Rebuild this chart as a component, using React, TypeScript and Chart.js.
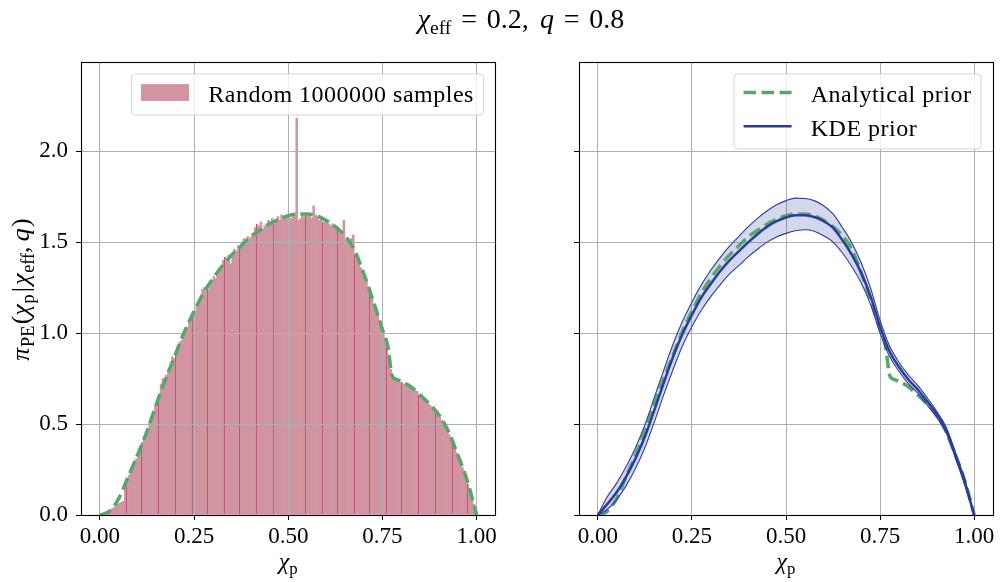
import React, { useEffect, useRef } from "react";
import { Chart, registerables } from "chart.js";

Chart.register(...registerables);

const FONT = '"Liberation Serif", "Times New Roman", serif';

// ---------- data ----------
const histBinWidth = 0.005; // 200 bins on [0, 1]
const histDensity = [
  0, 0, 0, 0, 0.003, 0.03, 0.034, 0.04, 0.05, 0.06,
  0.065, 0.07, 0.075, 0.16, 0.18, 0.22, 0.24, 0.26, 0.3, 0.31,
  0.34, 0.36, 0.4, 0.42, 0.44, 0.47, 0.51, 0.52, 0.56, 0.6,
  0.63, 0.66, 0.72, 0.75, 0.74, 0.77, 0.8, 0.81, 0.87, 0.86,
  0.9, 0.93, 0.95, 0.96, 1.0, 1.02, 1.03, 1.07, 1.08, 1.1,
  1.12, 1.15, 1.17, 1.19, 1.24, 1.25, 1.23, 1.24, 1.26, 1.29,
  1.31, 1.3, 1.33, 1.34, 1.36, 1.4, 1.42, 1.39, 1.43, 1.38,
  1.44, 1.46, 1.45, 1.48, 1.47, 1.5, 1.52, 1.49, 1.53, 1.52,
  1.53, 1.55, 1.58, 1.6, 1.59, 1.61, 1.57, 1.59, 1.6, 1.62,
  1.61, 1.63, 1.6, 1.62, 1.64, 1.62, 1.65, 1.63, 1.64, 1.63,
  1.64, 1.63, 1.65, 1.66, 2.18, 1.62, 1.63, 1.65, 1.64, 1.66,
  1.64, 1.66, 1.63, 1.7, 1.65, 1.64, 1.62, 1.63, 1.61, 1.62,
  1.61, 1.6, 1.59, 1.6, 1.58, 1.57, 1.58, 1.55, 1.54, 1.62,
  1.51, 1.5, 1.49, 1.52, 1.54, 1.43, 1.41, 1.39, 1.36, 1.33,
  1.31, 1.29, 1.25, 1.22, 1.2, 1.16, 1.13, 1.1, 1.07, 1.03,
  1.0, 0.97, 0.93, 0.88, 0.8, 0.76, 0.75, 0.74, 0.74, 0.73,
  0.73, 0.72, 0.72, 0.71, 0.71, 0.7, 0.69, 0.68, 0.68, 0.66,
  0.66, 0.64, 0.63, 0.63, 0.61, 0.6, 0.59, 0.58, 0.56, 0.55,
  0.54, 0.52, 0.5, 0.49, 0.47, 0.44, 0.42, 0.4, 0.37, 0.34,
  0.32, 0.29, 0.26, 0.23, 0.2, 0.17, 0.13, 0.1, 0.06, 0.02,
];
// bins whose left edge shows the darker seam line
const seamBins = [5, 14, 22, 31, 40, 49, 57, 66, 74, 83, 92, 100, 109, 118, 126, 135, 143, 152, 160, 169, 178, 187, 195];

const priorX = [
  0, 0.025, 0.05, 0.075, 0.1, 0.125, 0.15, 0.175, 0.2, 0.225, 0.25, 0.275, 0.3, 0.325, 0.35, 0.375,
  0.4, 0.425, 0.45, 0.475, 0.5, 0.525, 0.55, 0.575, 0.6, 0.625, 0.65, 0.675, 0.7, 0.725, 0.75,
  0.765, 0.775, 0.785, 0.8, 0.825, 0.85, 0.875, 0.9, 0.925, 0.95, 0.975, 1.0,
];
const analyticalPrior = [
  0, 0.02, 0.09, 0.21, 0.33, 0.46, 0.61, 0.75, 0.88, 1.01, 1.12, 1.22, 1.3, 1.37, 1.43, 1.48,
  1.53, 1.565, 1.6, 1.625, 1.645, 1.655, 1.655, 1.645, 1.62, 1.585, 1.535, 1.46, 1.33, 1.18, 1.02,
  0.92, 0.77, 0.748, 0.735, 0.705, 0.66, 0.61, 0.55, 0.46, 0.33, 0.19, 0,
];

const kdeX = [
  0, 0.025, 0.05, 0.075, 0.1, 0.125, 0.15, 0.175, 0.2, 0.225, 0.25, 0.275, 0.3, 0.325, 0.35, 0.375,
  0.4, 0.425, 0.45, 0.475, 0.5, 0.525, 0.55, 0.575, 0.6, 0.625, 0.65, 0.675, 0.7, 0.725, 0.75,
  0.775, 0.8, 0.825, 0.85, 0.875, 0.9, 0.925, 0.95, 0.975, 1.0,
];
const kdeMedian = [
  0, 0.06, 0.125, 0.21, 0.31, 0.43, 0.575, 0.725, 0.87, 0.995, 1.1, 1.195, 1.27, 1.34, 1.4, 1.45,
  1.5, 1.545, 1.585, 1.615, 1.635, 1.647, 1.648, 1.638, 1.615, 1.578, 1.51, 1.43, 1.33, 1.2, 1.035,
  0.9, 0.815, 0.745, 0.69, 0.625, 0.555, 0.47, 0.33, 0.18, 0,
];
const kdeUpper = [
  0, 0.1, 0.175, 0.265, 0.37, 0.495, 0.645, 0.795, 0.94, 1.065, 1.17, 1.265, 1.345, 1.415, 1.478, 1.532,
  1.585, 1.632, 1.672, 1.705, 1.728, 1.742, 1.74, 1.728, 1.7, 1.655, 1.58, 1.495, 1.385, 1.245, 1.07,
  0.93, 0.84, 0.77, 0.712, 0.645, 0.572, 0.485, 0.345, 0.195, 0,
];
const kdeLower = [
  0, 0.03, 0.085, 0.16, 0.255, 0.37, 0.51, 0.66, 0.8, 0.93, 1.035, 1.125, 1.2, 1.265, 1.325, 1.372,
  1.42, 1.462, 1.5, 1.528, 1.548, 1.562, 1.568, 1.56, 1.535, 1.5, 1.44, 1.365, 1.275, 1.155, 1.0,
  0.872, 0.79, 0.722, 0.67, 0.605, 0.538, 0.455, 0.315, 0.165, 0,
];

const xTickValues = [0, 0.25, 0.5, 0.75, 1];
const xTickLabels = ["0.00", "0.25", "0.50", "0.75", "1.00"];
const yTickValues = [0, 0.5, 1, 1.5, 2];
const yTickLabels = ["0.0", "0.5", "1.0", "1.5", "2.0"];

const histLabel = "Random 1000000 samples";
const analyticLabel = "Analytical prior";
const kdeLabel = "KDE prior";

type Seg = { t: string; it?: boolean; sub?: boolean; gap?: number };
const titleSegs: Seg[] = [
  { t: "χ", it: true }, { t: "eff", sub: true },
  { t: "=", gap: 0.35 }, { t: "0.2,", gap: 0.35 },
  { t: "q", it: true, gap: 0.4 }, { t: "=", gap: 0.35 }, { t: "0.8", gap: 0.35 },
];
const xLabelSegs: Seg[] = [{ t: "χ", it: true }, { t: "p", sub: true }];
const yLabelSegs: Seg[] = [
  { t: "π", it: true }, { t: "PE", sub: true, gap: 0.03 }, { t: "(", gap: 0.05 }, { t: "χ", it: true },
  { t: "p", sub: true, gap: 0.03 }, { t: "|", gap: 0.08 }, { t: "χ", it: true, gap: 0.08 },
  { t: "eff", sub: true, gap: 0.03 }, { t: "," }, { t: "q", it: true, gap: 0.2 }, { t: ")", gap: 0.05 },
];

// ---------- style ----------
const X_MIN = -0.05;
const X_MAX = 1.05;
const Y_MAX = 2.49;
const GRID = "#b0b0b0";
const PINK = "#d294a1";
const SEAM = "#bb4f70";
const GREEN = "#55a868";
const BLUE = "#2b3c9e";
const BAND = "rgba(43,60,158,0.2)";

// ---------- helpers ----------
function segFont(s: Seg, size: number) {
  const px = s.sub ? size * 0.7 : size;
  return `${s.it ? "italic " : ""}${px}px ${FONT}`;
}
function drawRich(ctx: CanvasRenderingContext2D, segs: Seg[], cx: number, base: number, size: number, rotate = false) {
  ctx.save();
  ctx.translate(cx, base);
  if (rotate) ctx.rotate(-Math.PI / 2);
  let w = 0;
  for (const s of segs) {
    ctx.font = segFont(s, size);
    w += (s.gap || 0) * size + ctx.measureText(s.t).width;
  }
  let x = -w / 2;
  ctx.fillStyle = "#000";
  ctx.textAlign = "left";
  ctx.textBaseline = "alphabetic";
  for (const s of segs) {
    x += (s.gap || 0) * size;
    ctx.font = segFont(s, size);
    ctx.fillText(s.t, x, s.sub ? size * 0.2 : 0);
    x += ctx.measureText(s.t).width;
  }
  ctx.restore();
}
const alignPx = (v: number) => Math.round(v - 0.5) + 0.5;

function drawFrame(chart: any) {
  const { ctx, chartArea: a } = chart;
  ctx.save();
  ctx.strokeStyle = "#000";
  ctx.lineWidth = 1.1;
  const l = alignPx(a.left), r = alignPx(a.right), t = alignPx(a.top), b = alignPx(a.bottom);
  ctx.strokeRect(l, t, r - l, b - t);
  ctx.restore();
}
function drawGrid(chart: any) {
  const { ctx, chartArea: a, scales } = chart;
  ctx.save();
  ctx.strokeStyle = GRID;
  ctx.lineWidth = 1;
  ctx.beginPath();
  for (const v of xTickValues) {
    const p = alignPx(scales.x.getPixelForValue(v));
    ctx.moveTo(p, a.top);
    ctx.lineTo(p, a.bottom);
  }
  for (const v of yTickValues) {
    const p = alignPx(scales.y.getPixelForValue(v));
    ctx.moveTo(a.left, p);
    ctx.lineTo(a.right, p);
  }
  ctx.stroke();
  ctx.restore();
}
type LegendItem = { label: string; kind: "patch" | "dash" | "line"; color: string };
function drawLegend(chart: any, items: LegendItem[], size: number) {
  const { ctx, chartArea: a } = chart;
  ctx.save();
  ctx.font = `${size}px ${FONT}`;
  (ctx as any).letterSpacing = "0.5px";
  const textW = Math.max(...items.map((i) => ctx.measureText(i.label).width));
  const pad = 0.4 * size, handleW = 2 * size, handlePad = 0.8 * size, rowH = 0.91 * size, rowGap = 0.5 * size;
  const boxW = pad * 2 + handleW + handlePad + textW;
  const boxH = pad * 2 + items.length * rowH + (items.length - 1) * rowGap;
  const right = a.right - 0.5 * size;
  const top = a.top + 0.5 * size;
  const left = right - boxW;
  ctx.beginPath();
  ctx.roundRect(left, top, boxW, boxH, 4);
  ctx.fillStyle = "rgba(255,255,255,0.8)";
  ctx.fill();
  ctx.strokeStyle = "rgba(204,204,204,0.8)";
  ctx.lineWidth = 1;
  ctx.stroke();
  items.forEach((it, i) => {
    const cy = top + pad + rowH / 2 + i * (rowH + rowGap);
    const hx = left + pad;
    if (it.kind === "patch") {
      ctx.fillStyle = it.color;
      ctx.fillRect(hx, cy - 2 - 0.35 * size, handleW, 0.7 * size);
    } else {
      ctx.strokeStyle = it.color;
      ctx.lineWidth = it.kind === "dash" ? 3.5 : 2.5;
      ctx.setLineDash(it.kind === "dash" ? [12.5, 5.5] : []);
      ctx.beginPath();
      ctx.moveTo(hx, cy - 2);
      ctx.lineTo(hx + handleW, cy - 2);
      ctx.stroke();
      ctx.setLineDash([]);
    }
    ctx.fillStyle = "#000";
    ctx.textAlign = "left";
    ctx.textBaseline = "alphabetic";
    ctx.font = `${size}px ${FONT}`;
    ctx.fillText(it.label, hx + handleW + handlePad, cy + 0.3 * size);
  });
  ctx.restore();
}

const tickFont = { family: FONT, size: 23 };
function xScale() {
  return {
    type: "linear",
    min: X_MIN,
    max: X_MAX,
    offset: false,
    afterBuildTicks: (s: any) => { s.ticks = xTickValues.map((value) => ({ value })); },
    afterFit: (s: any) => { s.height = 67; },
    ticks: {
      callback: (v: number) => xTickLabels[xTickValues.indexOf(v)] ?? "",
      font: tickFont, color: "#000", padding: 3, maxRotation: 0, autoSkip: false,
    },
    grid: { offset: false, color: GRID, lineWidth: 1, tickColor: "#000", tickLength: 5, tickWidth: 1 },
    border: { display: false },
  };
}
function yScale(width: number, showLabels: boolean) {
  return {
    type: "linear",
    min: 0,
    max: Y_MAX,
    offset: false,
    afterBuildTicks: (s: any) => { s.ticks = yTickValues.map((value) => ({ value })); },
    afterFit: (s: any) => { s.width = width; },
    ticks: {
      display: showLabels,
      callback: (v: number) => yTickLabels[yTickValues.indexOf(v)] ?? "",
      font: tickFont, color: "#000", padding: 8, autoSkip: false,
    },
    grid: { offset: false, color: GRID, lineWidth: 1, tickColor: "#000", tickLength: 5, tickWidth: 1 },
    border: { display: false },
  };
}

function leftConfig(): any {
  const decor = {
    id: "leftDecor",
    afterDatasetDraw(chart: any, args: any) {
      if (args.meta.type === "bar") drawGrid(chart);
    },
    afterDraw(chart: any) {
      const a = chart.chartArea;
      drawLegend(chart, [{ label: histLabel, kind: "patch", color: PINK }], 24);
      drawFrame(chart);
      drawRich(chart.ctx, xLabelSegs, (a.left + a.right) / 2, 569, 24);
      drawRich(chart.ctx, yLabelSegs, 29, (a.top + a.bottom) / 2 + 1, 26, true);
      drawRich(chart.ctx, titleSegs, 521, 28, 28);
    },
  };
  return {
    type: "bar",
    data: {
      datasets: [
        {
          type: "line",
          label: analyticLabel,
          data: priorX.map((x, i) => ({ x, y: analyticalPrior[i] })),
          borderColor: GREEN,
          borderWidth: 3.5,
          borderDash: [12.5, 5.5],
          pointRadius: 0,
          cubicInterpolationMode: "monotone",
          fill: false,
          order: 1,
        },
        {
          type: "bar",
          label: histLabel,
          data: histDensity.map((y, i) => ({ x: (i + 0.5) * histBinWidth, y })),
          backgroundColor: PINK,
          borderColor: SEAM,
          borderWidth: (c: any) => (seamBins.includes(c.dataIndex) ? { left: 1, right: 0, top: 0, bottom: 0 } : 0),
          borderSkipped: false,
          barPercentage: 1,
          categoryPercentage: 1,
          grouped: false,
          order: 2,
        },
      ],
    },
    options: {
      responsive: false,
      animation: false,
      devicePixelRatio: 1,
      events: [],
      layout: { padding: { left: 0, right: 504.5, top: 62, bottom: 0 }, autoPadding: false },
      plugins: { legend: { display: false }, tooltip: { enabled: false }, title: { display: false } },
      scales: { x: xScale(), y: yScale(81, true) },
    },
    plugins: [decor],
  };
}

function rightConfig(): any {
  const decor = {
    id: "rightDecor",
    afterDraw(chart: any) {
      const a = chart.chartArea;
      drawLegend(chart, [
        { label: analyticLabel, kind: "dash", color: GREEN },
        { label: kdeLabel, kind: "line", color: BLUE },
      ], 24);
      drawFrame(chart);
      drawRich(chart.ctx, xLabelSegs, (a.left + a.right) / 2, 569, 24);
    },
  };
  const pts = (ys: number[]) => kdeX.map((x, i) => ({ x, y: ys[i] }));
  return {
    type: "line",
    data: {
      datasets: [
        {
          label: analyticLabel,
          data: priorX.map((x, i) => ({ x, y: analyticalPrior[i] })),
          borderColor: GREEN, borderWidth: 3.5, borderDash: [12.5, 5.5], pointRadius: 0,
          cubicInterpolationMode: "monotone", fill: false, order: 4,
        },
        {
          label: "KDE upper",
          data: pts(kdeUpper),
          borderColor: BLUE, borderWidth: 1.1, pointRadius: 0, backgroundColor: BAND,
          cubicInterpolationMode: "monotone", fill: "+1", order: 3,
        },
        {
          label: "KDE lower",
          data: pts(kdeLower),
          borderColor: BLUE, borderWidth: 1.1, pointRadius: 0,
          cubicInterpolationMode: "monotone", fill: false, order: 2,
        },
        {
          label: kdeLabel,
          data: pts(kdeMedian),
          borderColor: BLUE, borderWidth: 2.5, pointRadius: 0,
          cubicInterpolationMode: "monotone", fill: false, order: 1,
        },
      ],
    },
    options: {
      responsive: false,
      animation: false,
      devicePixelRatio: 1,
      events: [],
      layout: { padding: { left: 0, right: 7, top: 62, bottom: 0 }, autoPadding: false },
      plugins: {
        legend: { display: false }, tooltip: { enabled: false }, title: { display: false },
        filler: { drawTime: "beforeDatasetsDraw" },
      },
      scales: { x: xScale(), y: yScale(79, false) },
    },
    plugins: [decor],
  };
}

export default function App() {
  const leftRef = useRef<HTMLCanvasElement>(null);
  const rightRef = useRef<HTMLCanvasElement>(null);
  useEffect(() => {
    document.body.style.margin = "0";
    const l = new Chart(leftRef.current!, leftConfig());
    const r = new Chart(rightRef.current!, rightConfig());
    return () => {
      l.destroy();
      r.destroy();
    };
  }, []);
  return (
    <div style={{ position: "relative", width: 1000, height: 582, background: "#fff", overflow: "hidden" }}>
      <canvas ref={leftRef} width={1000} height={582}
        style={{ position: "absolute", left: 0, top: 0, width: 1000, height: 582 }} />
      <canvas ref={rightRef} width={500} height={582}
        style={{ position: "absolute", left: 500, top: 0, width: 500, height: 582 }} />
    </div>
  );
}
